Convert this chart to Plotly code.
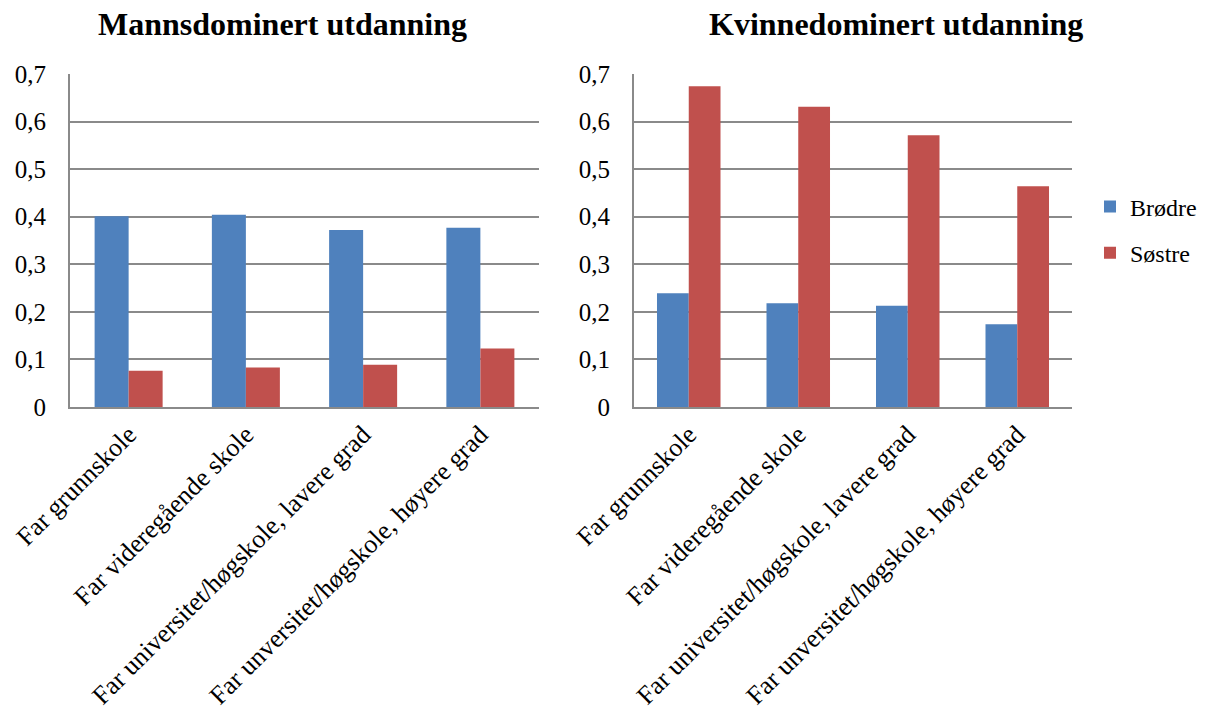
import plotly.graph_objects as go

# Categories (father's education) and shares for brothers / sisters
categories = [
    "Far grunnskole",
    "Far videregående skole",
    "Far universitet/høgskole, lavere grad",
    "Far unversitet/høgskole, høyere grad",
]
mann_brodre = [0.401, 0.404, 0.372, 0.377]
mann_sostre = [0.076, 0.083, 0.089, 0.123]
kvinne_brodre = [0.239, 0.218, 0.213, 0.174]
kvinne_sostre = [0.674, 0.631, 0.571, 0.464]

titles = ["Mannsdominert utdanning", "Kvinnedominert utdanning"]
series_names = ["Brødre", "Søstre"]
y_tickvals = [0, 0.1, 0.2, 0.3, 0.4, 0.5, 0.6, 0.7]
y_ticktext = ["0", "0,1", "0,2", "0,3", "0,4", "0,5", "0,6", "0,7"]

BLUE = "#4F81BD"
RED = "#C0504D"
GRID = "#8A8A8A"
FONT = "Liberation Serif, Times New Roman, serif"

W, H = 1214, 717

fig = go.Figure()

panels = [
    ("x", "y", mann_brodre, mann_sostre, True),
    ("x2", "y2", kvinne_brodre, kvinne_sostre, False),
]
for xa, ya, brodre, sostre, show in panels:
    fig.add_trace(go.Bar(x=categories, y=brodre, name=series_names[0],
                         marker=dict(color=BLUE, line=dict(width=0)),
                         xaxis=xa, yaxis=ya, showlegend=show,
                         legendgroup="b"))
    fig.add_trace(go.Bar(x=categories, y=sostre, name=series_names[1],
                         marker=dict(color=RED, line=dict(width=0)),
                         xaxis=xa, yaxis=ya, showlegend=show,
                         legendgroup="s"))

def px_x(v):
    return v / W

def px_y(v):
    return (H - v) / H

xaxis_common = dict(
    showgrid=False, showline=True, linecolor=GRID, linewidth=2,
    ticks="", tickangle=-45, automargin=False,
    tickfont=dict(family=FONT, size=26, color="black"),
    fixedrange=True,
)
yaxis_common = dict(
    range=[0, 0.7], tickvals=y_tickvals, ticktext=y_ticktext,
    showgrid=True, gridcolor=GRID, gridwidth=1.5,
    showline=True, linecolor=GRID, linewidth=2,
    zeroline=False, ticks="", ticklabelstandoff=17, automargin=False,
    tickfont=dict(family=FONT, size=25, color="black"),
    fixedrange=True,
)

fig.update_layout(
    width=W, height=H,
    margin=dict(l=0, r=0, t=0, b=0, autoexpand=False),
    paper_bgcolor="white", plot_bgcolor="white",
    barmode="group", bargap=0.42, bargroupgap=0,
    font=dict(family=FONT, color="black"),
    xaxis=dict(domain=[px_x(70), px_x(539)], anchor="y", **xaxis_common),
    yaxis=dict(domain=[px_y(407), px_y(74)], anchor="x", **yaxis_common),
    xaxis2=dict(domain=[px_x(634), px_x(1072)], anchor="y2", **xaxis_common),
    yaxis2=dict(domain=[px_y(407), px_y(74)], anchor="x2", **yaxis_common),
    legend=dict(
        x=px_x(1090), y=px_y(230), xanchor="left", yanchor="middle",
        font=dict(family=FONT, size=24, color="black"),
        traceorder="grouped", tracegroupgap=12,
        bgcolor="rgba(0,0,0,0)", itemwidth=30,
    ),
    annotations=[
        dict(text="<b>%s</b>" % titles[0], x=px_x(282), y=px_y(24),
             xref="paper", yref="paper", xanchor="center", yanchor="middle",
             showarrow=False, font=dict(family=FONT, size=32, color="black")),
        dict(text="<b>%s</b>" % titles[1], x=px_x(896), y=px_y(24),
             xref="paper", yref="paper", xanchor="center", yanchor="middle",
             showarrow=False, font=dict(family=FONT, size=32, color="black")),
    ],
)

fig.write_html("out.html")
